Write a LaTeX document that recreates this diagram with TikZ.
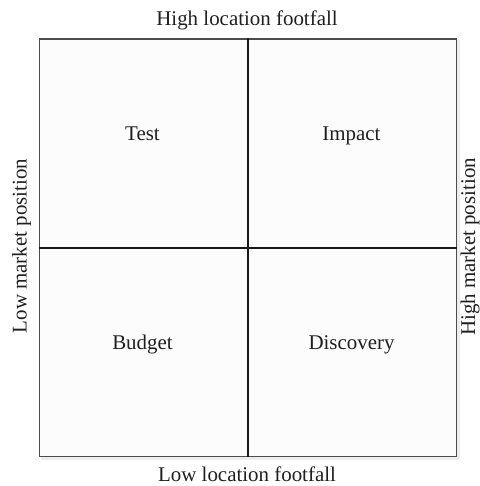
\documentclass[tikz,border=0pt]{standalone}
\usepackage{fontspec}
\setmainfont{Liberation Serif}
\begin{document}
\begin{tikzpicture}[x=1bp,y=-1bp,
  lbl/.style={font=\fontsize{21}{24}\selectfont, text=black!88, inner sep=0, anchor=base},
  crossline/.style={draw=black!90, line width=2.6bp},
  frame/.style={draw=black!70, line width=1.3bp, fill=black!1, inner sep=0,
    minimum width=417.5bp, minimum height=417.5bp, anchor=north west}]
\useasboundingbox (0,0) rectangle (480,486);
\fill[black!7] (40.5,40.5) rectangle (459.5,459.5);
\node[frame] (box) at (38.5,38.5) {};
\draw[crossline] (box.north) -- (box.south);
\draw[crossline] (box.west) -- (box.east);
\node[lbl] (test) at (142.5,140.7) {Test};
\node[lbl] (impact) at (351.5,140.7) {Impact};
\node[lbl] (budget) at (142.5,349.3) {Budget};
\node[lbl] (discovery) at (351.5,349.3) {Discovery};
\node[lbl] (top) at (247,26) {High location footfall};
\node[lbl] (bottom) at (247,481) {Low location footfall};
\node[lbl, rotate=90] (left) at (26.5,246) {Low market position};
\node[lbl, rotate=90] (right) at (475,247) {High market position};
\end{tikzpicture}
\end{document}
